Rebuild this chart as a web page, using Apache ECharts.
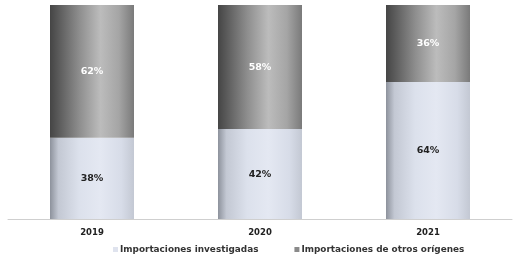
<!DOCTYPE html>
<html><head><meta charset="utf-8">
<script src="https://cdn.jsdelivr.net/npm/echarts@6/dist/echarts.min.js"></script>
<style>html,body{margin:0;padding:0;background:#fff}#c{width:517px;height:265px}</style>
</head><body><div id="c"></div>
<script>
const categories = ['2019', '2020', '2021'];
const investigadas = [38, 42, 64];
const otros = [62, 58, 36];
const seriesNames = ['Importaciones investigadas', 'Importaciones de otros orígenes'];

function grad(stops) {
  return {type: 'linear', x: 0, y: 0, x2: 1, y2: 0, colorStops: stops};
}
const grayStops = [
  {offset: 0, color: '#454545'},
  {offset: 0.12, color: '#5e5e5e'},
  {offset: 0.35, color: '#8e8e8e'},
  {offset: 0.6, color: '#bcbcbc'},
  {offset: 0.82, color: '#a5a5a5'},
  {offset: 1, color: '#7a7a7a'}
];
const blueStops = [
  {offset: 0, color: '#8d929c'},
  {offset: 0.1, color: '#c3c8d3'},
  {offset: 0.35, color: '#dce1ec'},
  {offset: 0.6, color: '#e4e8f2'},
  {offset: 0.85, color: '#d7dce8'},
  {offset: 1, color: '#c3c8d3'}
];

const FONT = 'DejaVu Sans';
const chart = echarts.init(document.getElementById('c'));
chart.setOption({
  animation: false,
  grid: {left: 8, right: 5, top: 5, bottom: 46, containLabel: false},
  legend: {
    bottom: 6, left: 108, itemWidth: 5, itemHeight: 5, itemGap: 36,
    icon: 'rect',
    textStyle: {fontFamily: FONT, fontWeight: 'bold', fontSize: 8.9, color: '#333', padding: [0, 0, 0, -3]},
    data: [
      {name: seriesNames[0], itemStyle: {color: '#dfe3ee'}},
      {name: seriesNames[1], itemStyle: {color: '#8a8a8a'}}
    ]
  },
  xAxis: {
    type: 'category', data: categories,
    axisLine: {lineStyle: {color: '#cfcfcf', width: 1}},
    axisTick: {show: false},
    axisLabel: {fontFamily: FONT, fontWeight: 'bold', fontSize: 8.5, color: '#222', margin: 9}
  },
  yAxis: {type: 'value', min: 0, max: 100, show: false, splitLine: {show: false}},
  series: [
    {
      name: seriesNames[0], type: 'bar', stack: 't', barWidth: '50%',
      data: investigadas,
      itemStyle: {color: grad(blueStops)},
      label: {show: true, position: 'inside', formatter: '{c}%', fontFamily: FONT, fontWeight: 'bold', fontSize: 9.5, color: '#222'}
    },
    {
      name: seriesNames[1], type: 'bar', stack: 't', barWidth: '50%',
      data: otros,
      itemStyle: {color: grad(grayStops)},
      label: {show: true, position: 'inside', formatter: '{c}%', fontFamily: FONT, fontWeight: 'bold', fontSize: 9.5, color: '#fff'}
    }
  ]
});
</script></body></html>
